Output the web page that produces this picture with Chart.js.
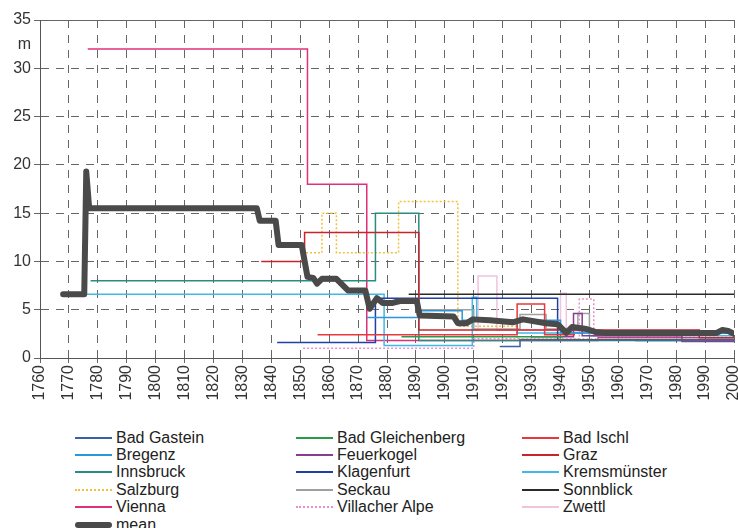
<!DOCTYPE html>
<html>
<head>
<meta charset="utf-8">
<title>Instrument height</title>
<script src="https://cdn.jsdelivr.net/npm/chart.js@4.4.1/dist/chart.umd.min.js"></script>
<style>
    body { margin: 0; background: #fff; font-family: "Liberation Sans", Arial, sans-serif; }
    #wrap { position: relative; width: 738px; height: 528px; }
    #chart { position: absolute; left: 0; top: 0; }
    #legend { position: absolute; left: 0; top: 429px; width: 738px; height: 99px; }
    .leg-item { position: absolute; height: 17px; display: flex; align-items: center;
                font-size: 16px; color: #222; white-space: nowrap; }
    .leg-line { display: inline-block; width: 37px; margin-right: 4px; height: 0; }
</style>
</head>
<body>
<div id="wrap">
    <canvas id="chart" width="738" height="420"></canvas>
    <div id="legend"></div>
</div>

<script>
/* =====================================
   Data (year, height in m)
===================================== */
const yearTicks = [1760, 1770, 1780, 1790, 1800, 1810, 1820, 1830, 1840, 1850, 1860, 1870,
                   1880, 1890, 1900, 1910, 1920, 1930, 1940, 1950, 1960, 1970, 1980, 1990, 2000];
const heightTicks = [0, 5, 10, 15, 20, 25, 30, 35];

const badGastein      = [[1919, 1.2], [1926, 1.9], [2000, 1.9]];
const badGleichenberg = [[1885, 2.2], [1941, 2.2]];
const badIschl        = [[1856, 2.4], [1925, 5.6], [1934.5, 2.4], [1945, 2.4]];
const bregenz         = [[1873, 4.2], [1891, 4.9], [1906, 3.9], [1940, 2.6], [2000, 2.6]];
const feuerkogel      = [[1930, 2.2], [1944.5, 4.6], [1947.5, 2.3], [1982, 1.7], [2000, 1.7]];
const graz            = [[1836.5, 10], [1851.5, 13], [1891, 2.9], [1988, 2.1], [2000, 2.1]];
const innsbruck       = [[1777.5, 8], [1876, 15], [1891, 1.8], [2000, 1.8]];
const klagenfurt      = [[1842, 1.6], [1876, 6.2], [1939, 1.9], [1966, 1.8], [2000, 1.8]];
const kremsmuenster   = [[1776, 6.6], [1879, 1.3], [1909.5, 6.3], [1911, 3.9], [1925, 2.6], [1950, 2.3], [2000, 2.3]];
const salzburg        = [[1852, 10.9], [1857.5, 15], [1862.5, 10.9], [1884, 16.2], [1904.5, 3.3], [1925, 2.0], [2000, 2.0]];
const seckau          = [[1891, 5.0], [1910, 3.0], [1926, 4.5], [1935, 3.0], [1946, 4.6], [1950, 2.6], [2000, 2.6]];
const sonnblick       = [[1887.5, 6.6], [2000, 6.6]];
const vienna          = [[1776.5, 32], [1852.5, 18], [1873, 1.8], [1953, 2.1], [2000, 2.1]];
const villacherAlpe   = [[1851, 1.0], [1910, 2.0], [1946.5, 6.1], [1951.5, 2.3], [2000, 2.3]];
const zwettl          = [[1909, 2.9], [1911.5, 8.5], [1918, 2.9], [1940, 6.7], [1942, 2.7], [2000, 2.7]];

const meanHeight = [
    [1768, 6.6], [1775.3, 6.6], [1776, 19.3], [1777, 15.5], [1835, 15.5], [1836, 14.2],
    [1841.5, 14.2], [1842.5, 11.7], [1850.5, 11.7], [1852.5, 8.4], [1854.5, 8.3], [1855.8, 7.7],
    [1857.5, 8.2], [1862.5, 8.2], [1864.5, 7.6], [1866.5, 7.0], [1872.5, 7.0], [1874, 5.1],
    [1876.5, 6.2], [1878.5, 5.7], [1882, 5.7], [1884.5, 5.9], [1890.3, 5.9], [1891.3, 4.4],
    [1903, 4.3], [1904.5, 3.6], [1907.5, 3.6], [1909.7, 4.0], [1915.6, 3.9], [1923.5, 3.7],
    [1927, 4.0], [1935, 3.6], [1939, 3.5], [1942, 2.6], [1944, 3.2], [1949, 3.0], [1952, 2.7],
    [1955, 2.6], [1994, 2.6], [1996, 2.9], [1998, 2.8], [2000, 2.5]
];

/* =====================================
   Series list (legend order)
===================================== */
const stations = [
    { label: "Bad Gastein",      data: badGastein,      color: "#3d5fa5" },
    { label: "Bad Gleichenberg", data: badGleichenberg, color: "#2a9a48" },
    { label: "Bad Ischl",        data: badIschl,        color: "#e8383c" },
    { label: "Bregenz",          data: bregenz,         color: "#2a98d8" },
    { label: "Feuerkogel",       data: feuerkogel,      color: "#8a3c92" },
    { label: "Graz",             data: graz,            color: "#c8242e" },
    { label: "Innsbruck",        data: innsbruck,       color: "#2a8c80" },
    { label: "Klagenfurt",       data: klagenfurt,      color: "#2040a8" },
    { label: "Kremsmünster",     data: kremsmuenster,   color: "#40b8e8" },
    { label: "Salzburg",         data: salzburg,        color: "#f0c040", dash: [2, 2] },
    { label: "Seckau",           data: seckau,          color: "#a0a0a0" },
    { label: "Sonnblick",        data: sonnblick,       color: "#2a2a2a" },
    { label: "Vienna",           data: vienna,          color: "#e0307a" },
    { label: "Villacher Alpe",   data: villacherAlpe,   color: "#e890c8", dash: [2, 2] },
    { label: "Zwettl",           data: zwettl,          color: "#f0c4dc" }
];

function toPoints(arr) {
    return arr.map(p => ({ x: p[0], y: p[1] }));
}

let datasets = stations.map(s => ({
    label: s.label,
    data: toPoints(s.data),
    borderColor: s.color,
    borderWidth: 1.5,
    borderDash: s.dash || [],
    stepped: true,
    pointRadius: 0,
    fill: false,
    order: 1
}));

datasets.push({
    label: "mean",
    data: toPoints(meanHeight),
    borderColor: "#4a4a4a",
    borderWidth: 6,
    borderJoinStyle: "round",
    borderCapStyle: "round",
    pointRadius: 0,
    fill: false,
    order: 0
});

/* =====================================
   Grid helpers
===================================== */
const gridColor = "#666";
const dashPattern = [8, 7];

function yGridColor(ctx) {
    if (ctx.tick && ctx.tick.value === 32.5) return "rgba(0,0,0,0)";
    return gridColor;
}

/* =====================================
   Chart
===================================== */
const chart = new Chart(document.getElementById("chart"), {
    type: "line",
    data: { datasets: datasets },
    options: {
        responsive: false,
        animation: false,
        layout: { padding: { top: 20, right: 4, left: 0, bottom: 0 } },
        plugins: {
            legend: { display: false },
            tooltip: { enabled: false }
        },
        scales: {
            x: {
                type: "linear",
                min: 1760,
                max: 2000,
                afterBuildTicks: scale => {
                    scale.ticks = yearTicks.map(v => ({ value: v }));
                },
                afterFit: scale => {
                    scale.height = 62;
                    scale.paddingRight = 0;
                    scale.paddingLeft = 0;
                },
                ticks: {
                    minRotation: 90,
                    maxRotation: 90,
                    padding: 2,
                    color: "#333",
                    font: { family: "'Liberation Sans', Arial, sans-serif", size: 16 },
                    callback: v => String(v)
                },
                grid: {
                    color: gridColor,
                    lineWidth: 1,
                    tickLength: 5,
                    tickColor: gridColor,
                    tickBorderDash: []
                },
                border: { display: true, color: "#555", width: 1, dash: dashPattern }
            },
            y: {
                min: 0,
                max: 35,
                afterBuildTicks: scale => {
                    let t = heightTicks.map(v => ({ value: v }));
                    t.push({ value: 32.5 });
                    t.sort((a, b) => a.value - b.value);
                    scale.ticks = t;
                },
                afterFit: scale => {
                    scale.width = 40;
                },
                ticks: {
                    padding: 3,
                    color: "#333",
                    font: { family: "'Liberation Sans', Arial, sans-serif", size: 16 },
                    callback: v => (v === 32.5 ? "m" : String(v))
                },
                grid: {
                    color: yGridColor,
                    lineWidth: 1,
                    tickLength: 6,
                    tickColor: yGridColor,
                    tickBorderDash: []
                },
                border: {
                    display: true,
                    color: "#555",
                    width: 1,
                    dash: ctx => (ctx.tick && ctx.tick.value === 35 ? [] : dashPattern)
                }
            }
        }
    }
});

/* =====================================
   HTML legend (3 columns)
===================================== */
function buildLegend() {
    let box = document.getElementById("legend");
    let colX = [75, 296, 522];
    let rowH = 17.4;

    chart.data.datasets.forEach((ds, i) => {
        let col = i % 3;
        let row = Math.floor(i / 3);
        if (ds.label === "mean") { col = 0; row = 5; }

        let item = document.createElement("div");
        item.className = "leg-item";
        item.style.left = colX[col] + "px";
        item.style.top = (row * rowH) + "px";

        let line = document.createElement("span");
        line.className = "leg-line";
        if (ds.label === "mean") {
            line.style.borderTop = "6px solid " + ds.borderColor;
            line.style.borderRadius = "3px";
        } else {
            let style = ds.borderDash.length ? "dotted" : "solid";
            line.style.borderTop = "2px " + style + " " + ds.borderColor;
        }

        let text = document.createElement("span");
        text.innerText = ds.label;

        item.appendChild(line);
        item.appendChild(text);
        box.appendChild(item);
    });
}

buildLegend();
</script>
</body>
</html>
